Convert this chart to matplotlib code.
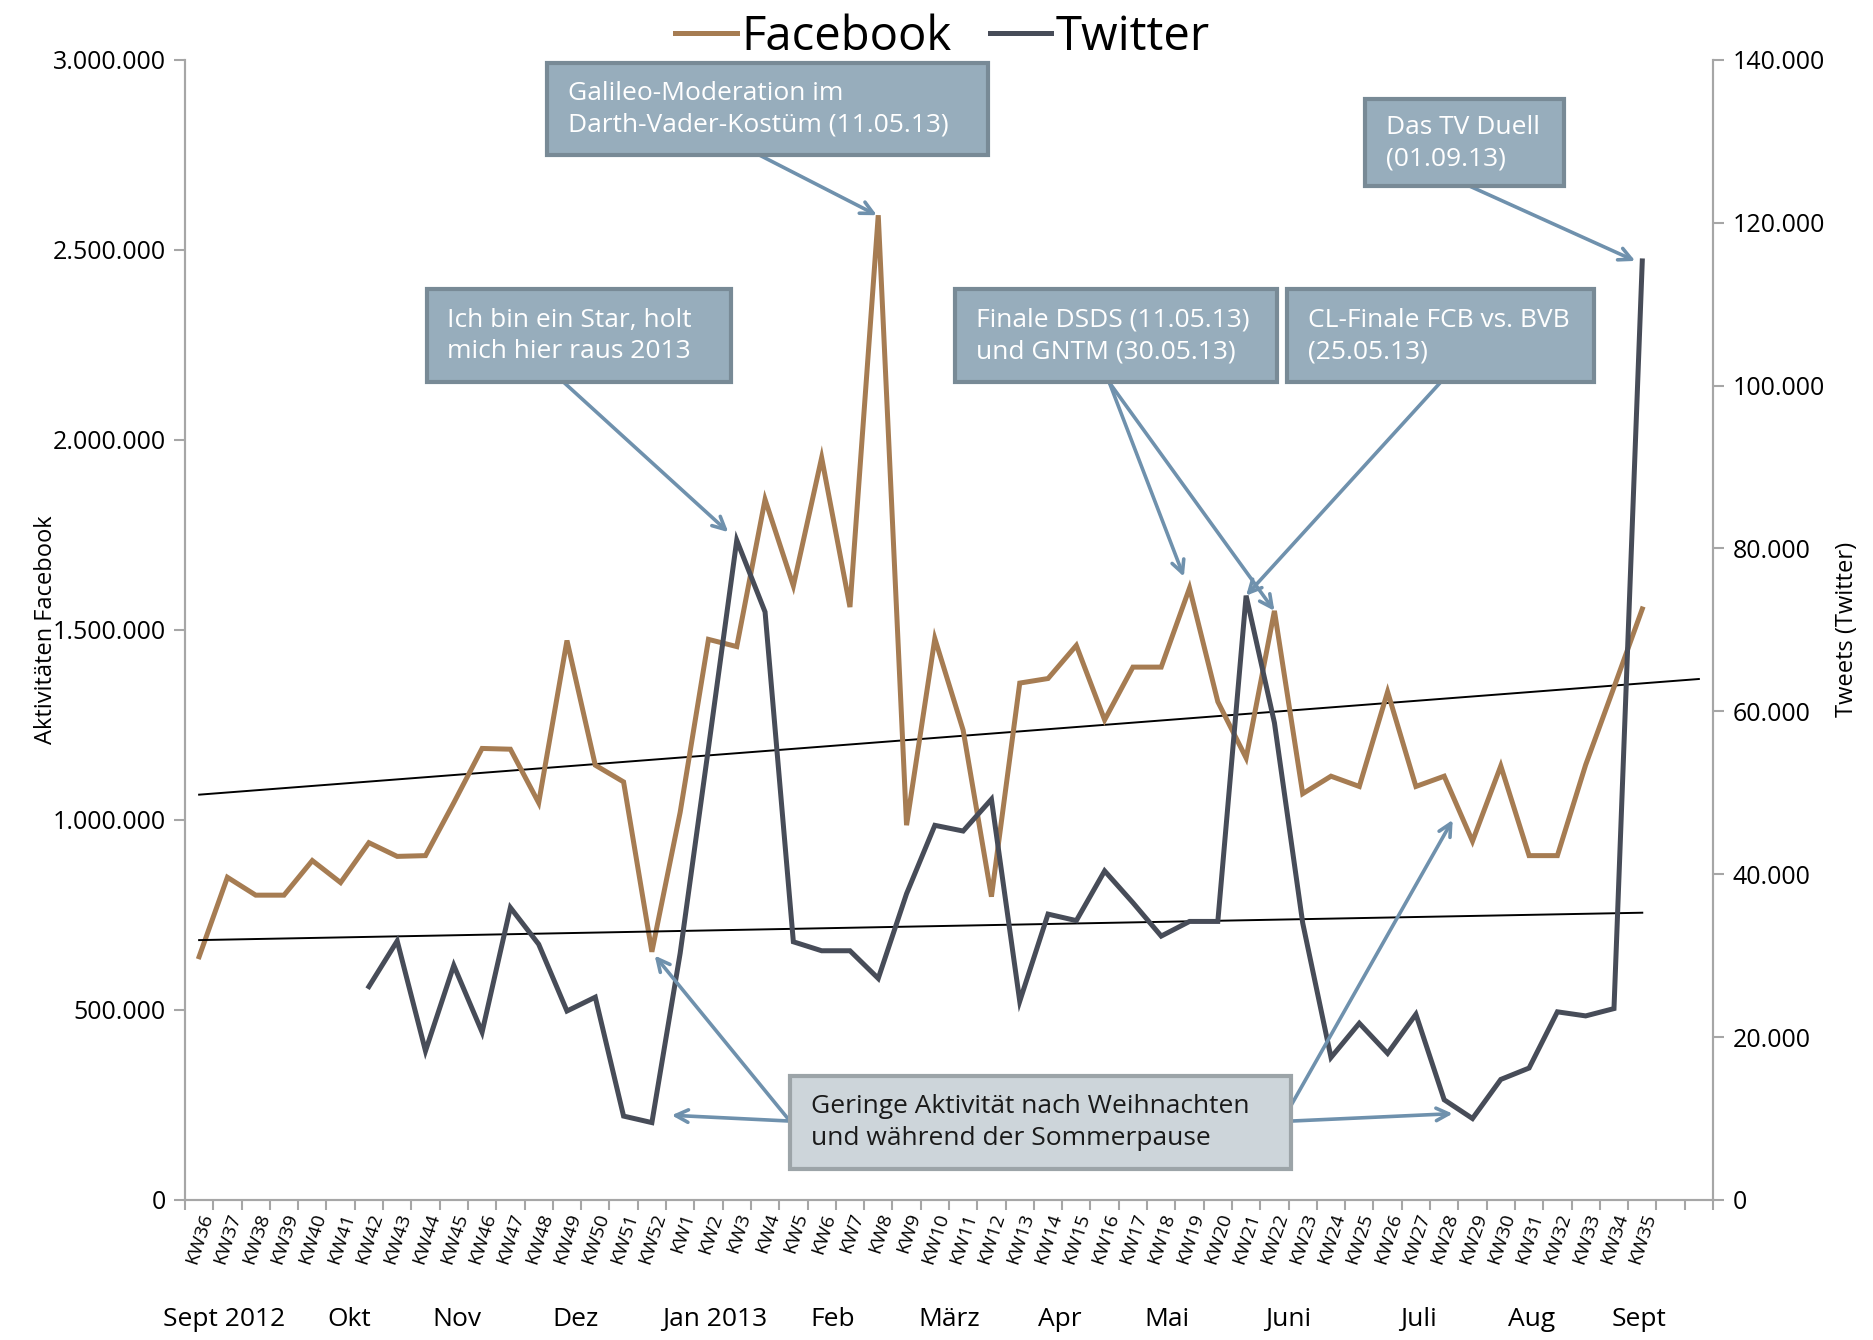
import numpy as np
import matplotlib
matplotlib.use('Agg')
from matplotlib import pyplot as plt
from matplotlib.patches import Rectangle

plt.rcParams['font.family'] = ['Open Sans', 'DejaVu Sans']

# Kalenderwochen Sept 2012 - Sept 2013
weeks = ['KW%d' % k for k in range(36, 53)] + ['KW%d' % k for k in range(1, 36)]

facebook = [640000, 849000, 802000, 802000, 893000, 835000, 940000, 904000, 906000,
            1045000, 1188000, 1186000, 1045000, 1472000, 1144000, 1100000, 653000,
            1020000, 1475000, 1456000, 1843000, 1616000, 1953000, 1560000, 2591000,
            986000, 1477000, 1236000, 798000, 1360000, 1372000, 1459000, 1263000,
            1402000, 1402000, 1610000, 1311000, 1163000, 1550000, 1069000, 1115000,
            1088000, 1337000, 1088000, 1115000, 944000, 1142000, 906000, 906000,
            1145000, 1349000, 1555000]

twitter = [np.nan] * 6 + [26200, 31800, 18300, 28800, 20600, 35900, 31400, 23200,
           24900, 10300, 9500, 30300, 55500, 81000, 72200, 31700, 30600, 30600,
           27200, 37600, 46000, 45300, 49200, 24400, 35100, 34300, 40400, 36500,
           32400, 34200, 34200, 74200, 58600, 34000, 17500, 21700, 18000, 22800,
           12300, 10000, 14800, 16200, 23100, 22600, 23500, 115300]

months = ['Sept 2012', 'Okt', 'Nov', 'Dez', 'Jan 2013', 'Feb', 'März', 'Apr',
          'Mai', 'Juni', 'Juli', 'Aug', 'Sept']
month_pos = [0.9, 5.3, 9.1, 13.3, 18.2, 22.4, 26.5, 30.4, 34.2, 38.5, 43.1, 47.1, 50.9]

fb_color = '#a67c52'
tw_color = '#474c58'
arrow_color = '#6f91ad'
box_fill = '#97adbc'
box_edge = '#788a96'
grey_fill = '#cdd5da'
grey_edge = '#9ca4a8'
axis_grey = '#a6a6a6'
n_slots = 54

x = np.arange(len(weeks))
fb = np.array(facebook, dtype=float)
tw = np.array(twitter, dtype=float)

fig = plt.figure(figsize=(18.74, 13.40), dpi=100)
ax = fig.add_axes([0.0987, 0.1045, 0.8154, 0.8509])
ax2 = ax.twinx()

l1, = ax.plot(x, fb, color=fb_color, lw=3.6, solid_joinstyle='miter', label='Facebook', zorder=3)
l2, = ax2.plot(x, tw, color=tw_color, lw=3.6, solid_joinstyle='miter', label='Twitter', zorder=3)

# lineare Trends (Facebook mit 2 Perioden Prognose)
p_fb = np.polyfit(x, fb, 1)
xt = np.array([0, n_slots - 1])
ax.plot(xt, np.polyval(p_fb, xt), color='black', lw=1.4, zorder=2)
ok = ~np.isnan(tw)
p_tw = np.polyfit(x[ok], tw[ok], 1)
xt2 = np.array([0, len(weeks) - 1])
ax2.plot(xt2, np.polyval(p_tw, xt2), color='black', lw=1.4, zorder=2)

ax.set_xlim(-0.5, n_slots - 0.5)
ax.set_ylim(0, 3000000)
ax2.set_ylim(0, 140000)

ax.set_yticks(np.arange(0, 3000001, 500000))
ax.set_yticklabels([f'{int(v):,}'.replace(',', '.') for v in np.arange(0, 3000001, 500000)])
ax2.set_yticks(np.arange(0, 140001, 20000))
ax2.set_yticklabels([f'{int(v):,}'.replace(',', '.') for v in np.arange(0, 140001, 20000)])

ax.set_xticks(x)
ax.set_xticklabels(weeks, rotation=72, ha='right', va='top', rotation_mode='anchor', fontsize=14)
ax.set_xticks(np.arange(-0.5, n_slots), minor=True)
ax.tick_params(axis='x', which='major', length=0, pad=8)
ax.tick_params(axis='x', which='minor', length=7, color=axis_grey, width=1.5)
ax.tick_params(axis='y', length=8, color=axis_grey, width=1.5, labelsize=18, pad=6)
ax2.tick_params(axis='y', length=8, color=axis_grey, width=1.5, labelsize=18, pad=6)

for a in (ax, ax2):
    a.spines['top'].set_visible(False)
    for s in ('left', 'right', 'bottom'):
        a.spines[s].set_color(axis_grey)
        a.spines[s].set_linewidth(1.5)

ax.set_ylabel('Aktivitäten Facebook', fontsize=17)
ax.yaxis.set_label_coords(-0.083, 0.5)
ax2.set_ylabel('Tweets (Twitter)', fontsize=17)
ax2.yaxis.set_label_coords(1.080, 0.5)

for m, p in zip(months, month_pos):
    ax.text(p, -0.105, m, transform=ax.get_xaxis_transform(), ha='center', va='center', fontsize=19)

fig.legend(handles=[l1, l2], loc='upper center', bbox_to_anchor=(0.503, 1.022), ncol=2,
           frameon=False, fontsize=34, handlelength=1.3, handletextpad=0.1, columnspacing=0.8)


def box(x0, x1, y0, y1, text, fill, edge, tcolor):
    r = Rectangle((x0, y0), x1 - x0, y1 - y0, transform=ax2.transAxes, facecolor=fill,
                  edgecolor=edge, lw=3, clip_on=False, zorder=6)
    ax2.add_patch(r)
    ax2.text(x0 + 0.0135, (y0 + y1) / 2, text, transform=ax2.transAxes, ha='left', va='center',
             color=tcolor, fontsize=19, linespacing=1.35, zorder=7)


def arrow(start, tip, coords):
    ax2.annotate('', xy=tip, xycoords=coords, xytext=start, textcoords='axes fraction',
                 arrowprops=dict(arrowstyle='->,head_length=0.9,head_width=0.45',
                                 color=arrow_color, lw=2.6, shrinkA=0, shrinkB=0),
                 zorder=5, annotation_clip=False)


box(0.2371, 0.5258, 0.9161, 0.9969, 'Galileo-Moderation im\nDarth-Vader-Kostüm (11.05.13)',
    box_fill, box_edge, 'white')
box(0.7723, 0.9022, 0.8889, 0.9654, 'Das TV Duell\n(01.09.13)', box_fill, box_edge, 'white')
box(0.1581, 0.3576, 0.7170, 0.7987, 'Ich bin ein Star, holt\nmich hier raus 2013',
    box_fill, box_edge, 'white')
box(0.5039, 0.7144, 0.7170, 0.7987, 'Finale DSDS (11.05.13)\nund GNTM (30.05.13)',
    box_fill, box_edge, 'white')
box(0.7214, 0.9218, 0.7170, 0.7987, 'CL-Finale FCB vs. BVB\n(25.05.13)',
    box_fill, box_edge, 'white')
box(0.3959, 0.7238, 0.0273, 0.1090, 'Geringe Aktivität nach Weihnachten\nund während der Sommerpause',
    grey_fill, grey_edge, '#1a1a1a')

arrow((0.3764, 0.9161), (23.95, fb[24]), ax.transData)
arrow((0.8412, 0.8889), (50.75, tw[51]), ax2.transData)
arrow((0.2480, 0.7170), (18.7, tw[19] + 1000), ax2.transData)
arrow((0.6049, 0.7170), (34.8, fb[35] + 30000), ax.transData)
arrow((0.6049, 0.7170), (38.0, fb[38]), ax.transData)
arrow((0.8216, 0.7170), (37.0, tw[37]), ax2.transData)
arrow((0.3959, 0.0692), (16.7, tw[16] + 900), ax2.transData)
arrow((0.3959, 0.0692), (16.1, fb[16] - 10000), ax.transData)
arrow((0.7238, 0.0692), (44.3, tw[45] + 600), ax2.transData)
arrow((0.7238, 0.0828), (44.3, 1000000), ax.transData)

fig.savefig('out.png', dpi=100)
